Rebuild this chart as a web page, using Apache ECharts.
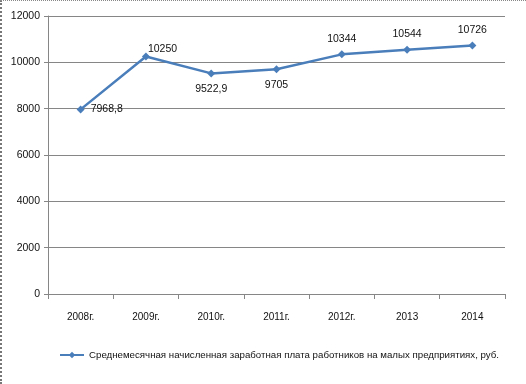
<!DOCTYPE html>
<html><head><meta charset="utf-8">
<script src="https://cdn.jsdelivr.net/npm/echarts@6/dist/echarts.min.js"></script>
<style>
html,body{margin:0;padding:0;background:#fff;}
#c{width:526px;height:384px;position:relative;}
#bl{position:absolute;left:0;top:0;width:0;height:384px;border-left:2px dotted #777;}
#bt{position:absolute;left:0;top:0;width:526px;height:0;border-top:1px dotted #888;}
</style></head>
<body><div id="c"></div>
<script>
const categories = ['2008г.','2009г.','2010г.','2011г.','2012г.','2013','2014'];
const values = [7968.8, 10250, 9522.9, 9705, 10344, 10544, 10726];
const labelTexts = ['7968,8','10250','9522,9','9705','10344','10544','10726'];
const labelPos = ['right','insideBottomLeft','bottom','bottom','top','top','top'];
const seriesName = 'Среднемесячная начисленная заработная плата работников на малых предприятиях, руб.';

const chart = echarts.init(document.getElementById('c'), null, {renderer:'canvas'});
const font = 'Liberation Sans';
chart.setOption({
  animation:false,
  textStyle:{fontFamily:font},
  grid:{left:48,right:21,top:16,bottom:90},
  legend:{
    data:[seriesName],
    bottom:19,left:54,itemWidth:24,itemHeight:8,
    textStyle:{fontSize:9.7,color:'#111',fontFamily:font}
  },
  xAxis:{
    type:'category',data:categories,boundaryGap:true,
    axisLine:{lineStyle:{color:'#868686'}},
    axisTick:{show:true,length:5,lineStyle:{color:'#868686'}},
    axisLabel:{fontSize:10,color:'#111',margin:18,fontFamily:font}
  },
  yAxis:{
    type:'value',min:0,max:12000,interval:2000,
    axisLine:{show:true,lineStyle:{color:'#868686'}},
    axisTick:{show:true,length:4,lineStyle:{color:'#868686'}},
    splitLine:{lineStyle:{color:'#868686'}},
    axisLabel:{fontSize:10.5,color:'#111',margin:8,fontFamily:font,formatter:v=>String(v)}
  },
  series:[{
    name:seriesName,type:'line',
    data:values.map((v,i)=>({value:v,label:{position:labelPos[i],formatter:labelTexts[i]}})),
    symbol:'diamond',symbolSize:8,
    lineStyle:{color:'#4A7EBB',width:2.5},
    itemStyle:{color:'#4A7EBB'},
    label:{show:true,fontSize:10.5,color:'#111',fontFamily:font,distance:6}
  }]
});
</script>
<div id="bl"></div><div id="bt"></div>
</body></html>
